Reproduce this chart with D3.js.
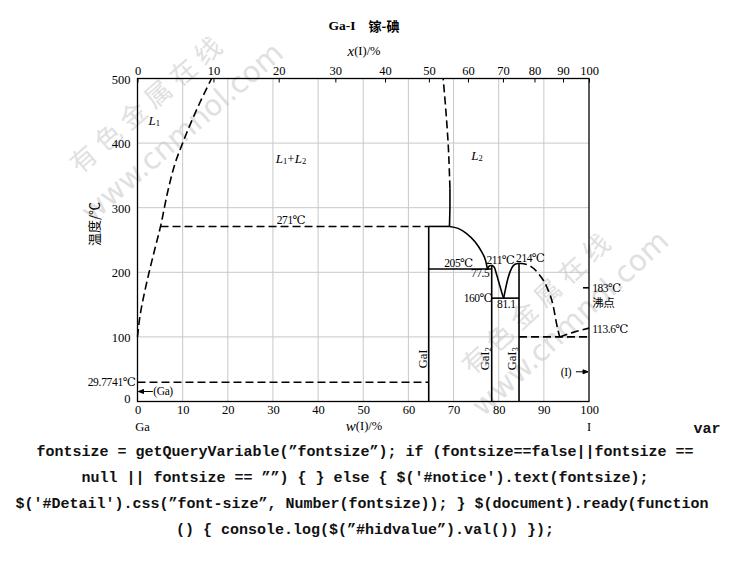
<!DOCTYPE html>
<html><head><meta charset="utf-8">
<script src="https://cdn.jsdelivr.net/npm/d3@7"></script>
<style>
html,body{margin:0;padding:0;background:#fff;}
svg{display:block;}
</style></head>
<body>
<svg id="chart" width="730" height="579"></svg>
<script>
// ---------- data ----------
const wTicks = [0,10,20,30,40,50,60,70,80,90,100];          // w(I)/% bottom axis
const xTicks = [0,10,20,30,40,50,60,70,80,90,100];          // x(I)/% top axis (atomic)
const tTicks = [0,100,200,300,400,500];                     // temperature
const gridW = [10,20,30,40,50,60,70,80,90];
const gridT = [100,200,300,400];
const massGa = 69.723, massI = 126.904;

// L1 boundary (dashed)
const boundL1 = [[0,100],[0.5,130],[1.2,157],[2.4,195],[3.8,235],[5.1,271],[6.7,325],[8.3,368],[10.0,400],[11.8,431],[13.9,464],[16.4,500]];
// L2 boundary: solid lower part, dashed upper part
const boundL2Solid = [[69.1,271],[69.2,300],[69.2,330]];
const boundL2Dash = [[69.2,330],[69.0,370],[68.8,400],[68.3,450],[67.7,500]];
// liquidus curves (solid)
const liqGaI  = [[69.1,271],[71.0,268],[72.9,260],[74.8,247],[76.2,232],[77.1,218],[77.5,205]];
const liqGaI2a = [[77.5,205],[77.9,209.5],[78.45,211]];
const liqGaI2b = [[78.45,211],[79.0,208],[79.6,195],[80.3,178],[80.8,166],[81.1,160]];
const liqGaI3a = [[81.1,160],[81.5,174],[82.1,192],[82.9,207],[83.6,212.5],[84.5,214]];
// dashed liquidus on the I side
const liqGaI3b = [[84.5,214],[86.6,211],[88.8,198],[90.6,178],[92.1,147],[92.8,121],[93.5,100]];
const liqI = [[93.5,100],[96.5,107],[100,113.6]];

// invariant horizontals: [T, wStart, wEnd, dashed]
const horizontals = [
  [271,5.1,64.5,true],[271,64.5,69.1,false],
  [205,64.5,78.45,false],[160,78.45,84.5,false],
  [100,84.5,100,true],[29.7741,0,64.5,true]
];
// compounds: [label, subscript, w, Tmax]
const compounds = [["GaI","",64.5,271],["GaI","2",78.45,211],["GaI","3",84.5,214]];

// labels in data coordinates: [text, w, T, anchor]
const labels = [
  ["271℃",34,281,"middle"],["205℃",71.1,215,"middle"],["211℃",80.4,219,"middle"],
  ["214℃",87.0,222,"middle"],["77.5",75.9,199,"middle"],["160℃",75.4,160,"middle"],
  ["81.1",81.7,151,"middle"],["183℃",100.7,175.5,"start"],["沸点",100.7,153,"start"],
  ["113.6℃",100.7,113,"start"],["(I)",94.9,46,"middle"],["(Ga)",3.5,15.5,"start"]
];
const boilT = 176;

// ---------- drawing ----------
const SERIF = '"Liberation Serif","Times New Roman","DejaVu Serif","Noto Sans CJK SC",serif';
const CJK = '"Noto Sans CJK SC",sans-serif';
const svg = d3.select("#chart");
const x = d3.scaleLinear().domain([0,100]).range([137.5,589]);
const y = d3.scaleLinear().domain([0,500]).range([401.5,78.5]);
const atToWt = a => a===0?0:100*a*massI/(a*massI+(100-a)*massGa);

// watermarks
const wm = svg.append("g").attr("fill","#e0e0e0");
function mark(cx,cy,ang,text,size,font,ls){
  wm.append("text").attr("transform",`translate(${cx},${cy}) rotate(${ang})`)
    .attr("text-anchor","middle").attr("dominant-baseline","central")
    .style("font-family",font).attr("font-size",size).attr("letter-spacing",ls).text(text);
}
mark(147,101,-41,"有色金属在线",26,CJK,7);
mark(182,132,-41,"www.cnmnol.com",29,"DejaVu Sans",0);
mark(537,300,-43,"有色金属在线",26,CJK,7);
mark(570,323,-43,"www.cnmnol.com",29,"DejaVu Sans",0);

// grid
const g = svg.append("g");
g.selectAll(".gw").data(gridW).join("line")
  .attr("x1",d=>x(d)).attr("x2",d=>x(d)).attr("y1",y(0)).attr("y2",y(500))
  .attr("stroke","#c8c8c8").attr("stroke-width",1);
g.selectAll(".gt").data(gridT).join("line")
  .attr("y1",d=>y(d)).attr("y2",d=>y(d)).attr("x1",x(0)).attr("x2",x(100))
  .attr("stroke","#c8c8c8").attr("stroke-width",1);

// frame
svg.append("rect").attr("x",x(0)).attr("y",y(500)).attr("width",x(100)-x(0)).attr("height",y(0)-y(500))
  .attr("fill","none").attr("stroke","#000").attr("stroke-width",1.3);

// axes
const axB = svg.append("g").attr("transform",`translate(0,${y(0)})`)
  .call(d3.axisBottom(x).tickValues(wTicks).tickSize(0).tickPadding(4));
const axL = svg.append("g").attr("transform",`translate(${x(0)},0)`)
  .call(d3.axisLeft(y).tickValues(tTicks).tickSize(0).tickPadding(7));
const axT = svg.append("g").attr("transform",`translate(0,${y(500)})`)
  .call(d3.axisTop(d3.scaleLinear().domain([0,100]).range([x(0),x(100)]))
     .tickValues(xTicks.map(atToWt)).tickFormat((d,i)=>xTicks[i]).tickSize(-4).tickPadding(4));
[axB,axL,axT].forEach(a=>{
  a.select(".domain").remove();
  a.attr("font-family",null);
  a.selectAll("text").style("font-family",SERIF).attr("font-size",12.5).attr("fill","#000");
  a.selectAll("line").attr("stroke","#000");
});
axL.selectAll(".tick text").attr("dy","0.36em");
axL.selectAll(".tick").filter(d=>d===0).select("text").attr("dy","0.1em");

// lines
const line = d3.line().x(d=>x(d[0])).y(d=>y(d[1]));
const lineMX = d3.line().x(d=>x(d[0])).y(d=>y(d[1])).curve(d3.curveMonotoneX);
const lineCR = d3.line().x(d=>x(d[0])).y(d=>y(d[1])).curve(d3.curveCatmullRom.alpha(0.5));
const P = svg.append("g").attr("fill","none").attr("stroke","#000").attr("stroke-width",1.6);
const dash = "8,4";
P.append("path").attr("d",lineCR(boundL1)).attr("stroke-dasharray",dash);
P.append("path").attr("d",line(boundL2Solid));
P.append("path").attr("d",lineCR(boundL2Dash)).attr("stroke-dasharray",dash);
[liqGaI,liqGaI2a,liqGaI2b,liqGaI3a].forEach(s=>P.append("path").attr("d",lineMX(s)));
P.append("path").attr("d",lineMX(liqGaI3b)).attr("stroke-dasharray",dash);
P.append("path").attr("d",lineMX(liqI)).attr("stroke-dasharray",dash);
horizontals.forEach(h=>{
  P.append("line").attr("x1",x(h[1])).attr("x2",x(h[2])).attr("y1",y(h[0])).attr("y2",y(h[0]))
   .attr("stroke-dasharray",h[3]?dash:null);
});
compounds.forEach(c=>{
  P.append("line").attr("x1",x(c[2])).attr("x2",x(c[2])).attr("y1",y(c[3])).attr("y2",y(0));
});
// boiling point tick
P.append("line").attr("x1",x(100)-6).attr("x2",x(100)).attr("y1",y(boilT)).attr("y2",y(boilT));
// arrows
const A = svg.append("g").attr("stroke","#000").attr("stroke-width",1).attr("fill","#000");
A.append("line").attr("x1",x(0)+1).attr("x2",x(3.4)).attr("y1",y(15.5)).attr("y2",y(15.5));
A.append("path").attr("d",`M${x(0)+1},${y(15.5)} l5,-2 l0,4 z`);
A.append("line").attr("x1",x(97.1)).attr("x2",x(100)-1).attr("y1",y(46)).attr("y2",y(46));
A.append("path").attr("d",`M${x(100)-1},${y(46)} l-5,-2 l0,4 z`);

// labels
const L = svg.append("g").attr("font-size",11.5).attr("fill","#000");
labels.forEach(l=>{
  L.append("text").attr("x",x(l[1])).attr("y",y(l[2])).attr("text-anchor",l[3])
   .style("font-family",SERIF)
   .attr("dominant-baseline","central").attr("letter-spacing",-0.4).text(l[0]);
});
L.append("text").attr("x",x(0)-2).attr("y",y(29.7741)).attr("text-anchor","end").style("font-family",SERIF)
  .attr("dominant-baseline","central").attr("letter-spacing",-0.3).text("29.7741℃");
compounds.forEach((c,i)=>{
  const wx = [63.3,77.0,82.9][i];
  const t = L.append("text").attr("transform",`translate(${x(wx)},${y(66)}) rotate(-90)`)
   .style("font-family",SERIF)
   .attr("text-anchor","middle").attr("dominant-baseline","central").attr("font-size",12.5);
  t.append("tspan").text(c[0]);
  if(c[1]) t.append("tspan").attr("font-size",8.5).attr("dy","3").text(c[1]);
});
function phase(wv,tv,parts){
  const t = L.append("text").attr("x",x(wv)).attr("y",y(tv)).attr("text-anchor","middle")
    .style("font-family",SERIF)
    .attr("dominant-baseline","central").attr("font-size",13);
  let shifted = false;
  parts.forEach(p=>{
    const s = t.append("tspan").text(p[0]);
    if(p[1]) s.attr("font-style","italic");
    if(shifted){ s.attr("dy",-3); shifted=false; }
    if(p[2]){ t.append("tspan").attr("font-size",8.5).attr("dy",3).text(p[2]); shifted=true; }
  });
}
phase(3.7,436,[["L",true,"1"]]);
phase(34,377,[["L",true,"1"],["+",false],["L",true,"2"]]);
phase(75.2,381,[["L",true,"2"]]);

// titles
const T = svg.append("g").attr("fill","#000");
const tt = T.append("text").attr("x",364).attr("y",25).attr("text-anchor","middle").style("font-family",SERIF)
  .attr("dominant-baseline","central").attr("font-weight","bold").attr("font-size",13.5);
tt.append("tspan").text("Ga-I");
tt.append("tspan").attr("dx",13).style("font-family",CJK).attr("font-size",13).text("镓-碘");
const xt = T.append("text").attr("x",364).attr("y",51).attr("text-anchor","middle").style("font-family",SERIF)
  .attr("dominant-baseline","central").attr("font-size",12.5);
xt.append("tspan").attr("font-style","italic").attr("font-size",15).text("x");
xt.append("tspan").text("(I)/%");
const wt = T.append("text").attr("x",364).attr("y",426).attr("text-anchor","middle").style("font-family",SERIF)
  .attr("dominant-baseline","central").attr("font-size",12.5);
wt.append("tspan").attr("font-style","italic").attr("font-size",15).text("w");
wt.append("tspan").text("(I)/%");
T.append("text").attr("x",x(0)+5).attr("y",427).attr("text-anchor","middle").style("font-family",SERIF).attr("dominant-baseline","central").attr("font-size",12.5).text("Ga");
T.append("text").attr("x",x(100)).attr("y",427).attr("text-anchor","middle").style("font-family",SERIF).attr("dominant-baseline","central").attr("font-size",12.5).text("I");
T.append("text").attr("transform","translate(93,224) rotate(-90)").attr("text-anchor","middle")
  .attr("dominant-baseline","central").style("font-family",CJK).attr("font-size",13).text("温度/℃");

// leaked script text below the picture
const codeLines = [
  ["var",707,429,"middle"],
  ["fontsize = getQueryVariable(\u201dfontsize\u201d); if (fontsize==false||fontsize ==",365,452,"middle"],
  ["null || fontsize == \u201d\u201d) { } else { $('#notice').text(fontsize);",365,478,"middle"],
  ["$('#Detail').css(\u201dfont-size\u201d, Number(fontsize)); } $(document).ready(function",362,504,"middle"],
  ["() { console.log($(\u201d#hidvalue\u201d).val()) });",365,530,"middle"]
];
const C = svg.append("g").attr("font-weight","bold").attr("font-size",15).attr("fill","#111");
codeLines.forEach(c=>C.append("text").attr("x",c[1]).attr("y",c[2]).attr("text-anchor",c[3])
  .style("font-family",'"Liberation Mono","DejaVu Sans Mono",monospace')
  .attr("dominant-baseline","central").attr("xml:space","preserve").text(c[0]));
</script>
</body></html>
